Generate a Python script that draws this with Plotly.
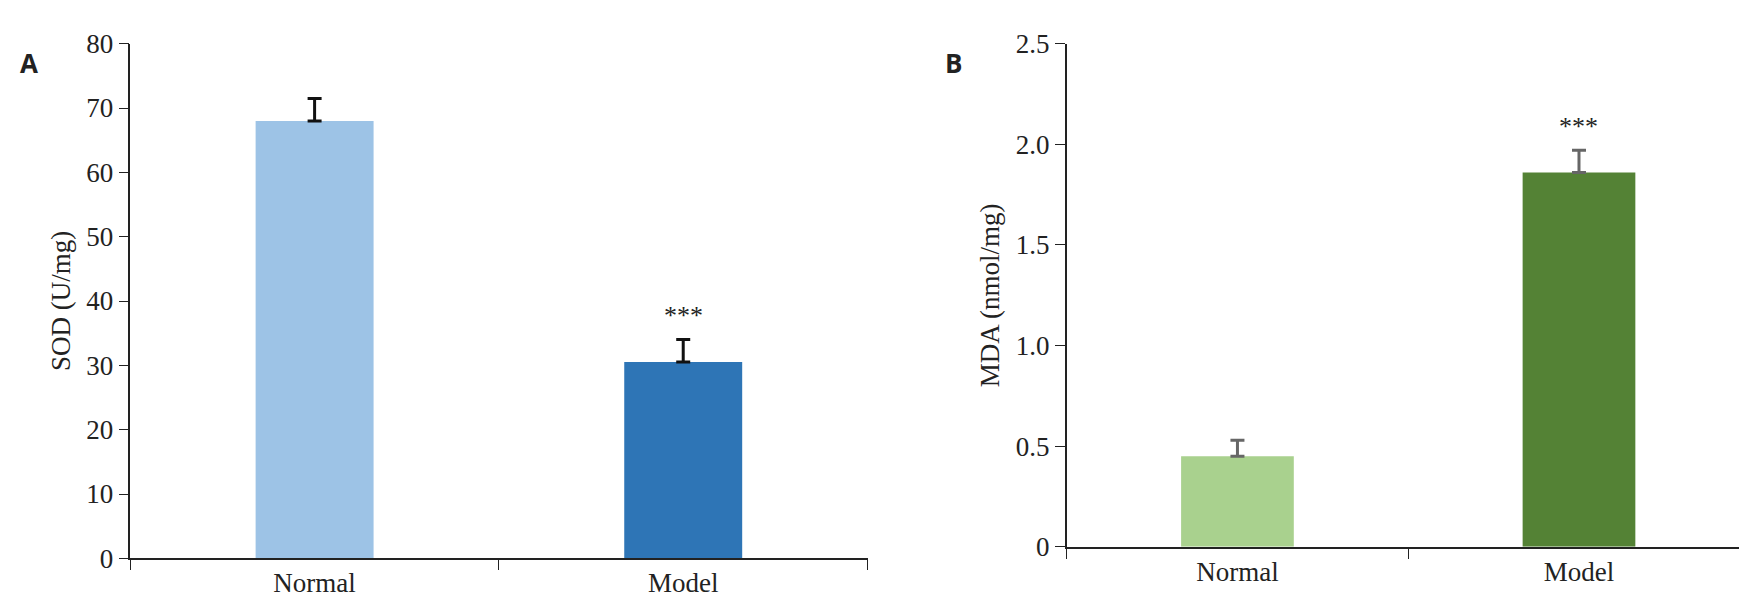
import plotly.graph_objs as go

###### DATA #####
groups = ["Normal", "Model"]
sod = [68.0, 30.5]
sod_err = [3.5, 3.5]
mda = [0.45, 1.86]
mda_err = [0.08, 0.11]
###### DATA #####

serif = "Liberation Serif, Times New Roman, serif"

fig = go.Figure()
fig.add_trace(go.Bar(x=groups, y=sod, width=0.32,
                     marker=dict(color=["#9DC3E6", "#2E75B6"], line=dict(width=0)),
                     error_y=dict(type="data", array=sod_err, symmetric=False, arrayminus=[0, 0],
                                  color="#111111", thickness=3, width=7),
                     xaxis="x", yaxis="y"))
fig.add_trace(go.Bar(x=groups, y=mda, width=0.33,
                     marker=dict(color=["#A9D18E", "#548235"], line=dict(width=0)),
                     error_y=dict(type="data", array=mda_err, symmetric=False, arrayminus=[0, 0],
                                  color="#666666", thickness=3, width=7),
                     xaxis="x2", yaxis="y2"))

ax = dict(showline=True, linecolor="#222", linewidth=1.5, ticks="outside", tickcolor="#222",
          ticklen=10, showgrid=False, zeroline=False, tickfont=dict(family=serif, size=27, color="#222"))
fig.update_layout(
    width=1747, height=605, margin=dict(l=0, r=0, t=0, b=0),
    plot_bgcolor="white", paper_bgcolor="white", showlegend=False,
    xaxis=dict(ax, domain=[0.070, 0.492], tickson="boundaries", anchor="y"),
    yaxis=dict(ax, domain=[0.069, 0.964], range=[0, 80], dtick=10, anchor="x",
               title=dict(text="SOD (U/mg)", font=dict(family=serif, size=27, color="#222"), standoff=8)),
    xaxis2=dict(ax, domain=[0.606, 0.997], tickson="boundaries", anchor="y2"),
    yaxis2=dict(ax, domain=[0.089, 0.964], range=[0, 2.5], tickvals=[0, 0.5, 1, 1.5, 2, 2.5],
                ticktext=["0", "0.5", "1.0", "1.5", "2.0", "2.5"], anchor="x2",
                title=dict(text="MDA (nmol/mg)", font=dict(family=serif, size=27, color="#222"), standoff=8)),
    annotations=[
        dict(text="***", x="Model", y=sod[1] + sod_err[1], xref="x", yref="y", yshift=24,
             showarrow=False, font=dict(family=serif, size=26, color="#222")),
        dict(text="***", x="Model", y=mda[1] + mda_err[1], xref="x2", yref="y2", yshift=24,
             showarrow=False, font=dict(family=serif, size=26, color="#222")),
        dict(text="<b>A</b>", x=0.006, y=0.965, xref="paper", yref="paper", xanchor="left",
             showarrow=False, font=dict(family="Open Sans, sans-serif", size=26, color="#222")),
        dict(text="<b>B</b>", x=0.535, y=0.965, xref="paper", yref="paper", xanchor="left",
             showarrow=False, font=dict(family="Open Sans, sans-serif", size=26, color="#222")),
    ],
)

fig.write_html("out.html")
